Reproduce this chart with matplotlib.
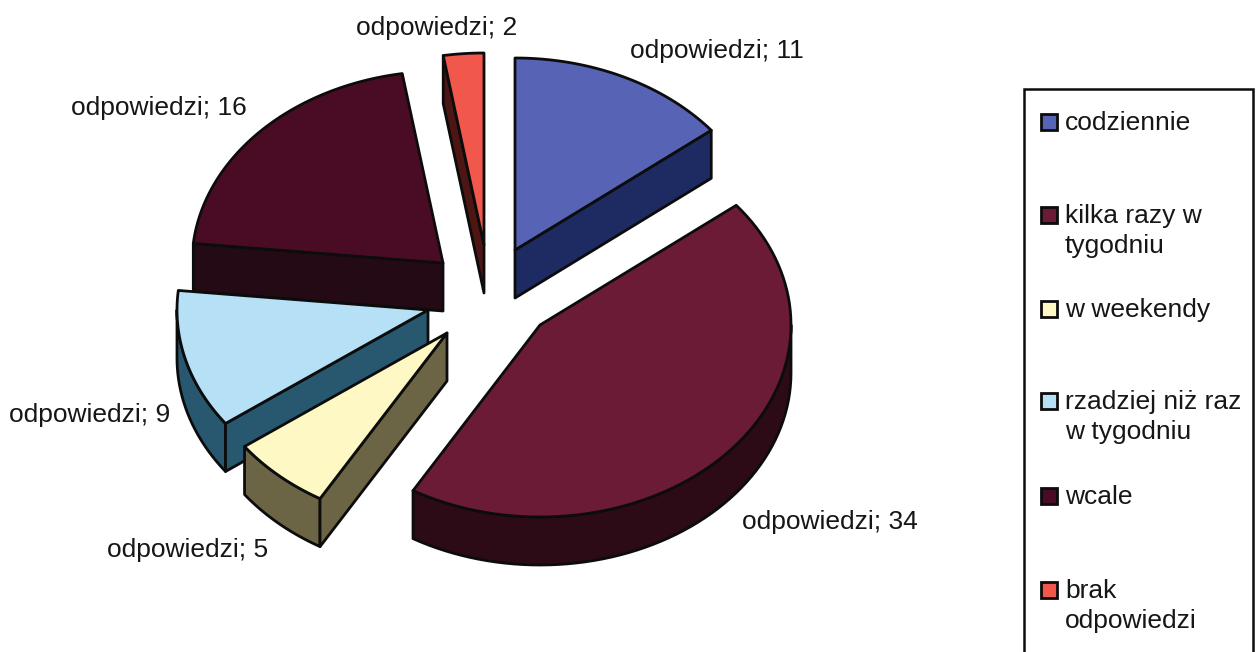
import numpy as np
import matplotlib
matplotlib.use('Agg')
import matplotlib.pyplot as plt
from matplotlib.patches import Polygon, Rectangle

plt.rcParams['font.family'] = ['Liberation Sans', 'DejaVu Sans']

categories = ['codziennie', 'kilka razy w\ntygodniu', 'w weekendy',
              'rzadziej niż raz\nw tygodniu', 'wcale', 'brak\nodpowiedzi']
values = [11, 34, 5, 9, 16, 2]
top_colors = ['#5763b5', '#6b1b36', '#fdf8c4', '#b5e0f5', '#4a0c24', '#f2574c']
side_colors = ['#1e2a62', '#2c0a16', '#6b6545', '#27586f', '#240a14', '#4d1612']

# layout, in pixels of the picture
apex = [(515, 250), (540, 325), (447, 333), (428, 310), (443, 263), (484, 245)]
label_pos = [(717, 51), (830, 522), (188, 550), (90, 415), (159, 108), (437, 28)]
legend_y = [122, 215, 309, 401, 496, 590]
rx, ry, depth = 251, 192, 48
edge = '#0c0c0c'
lw = 2.0

fig = plt.figure(figsize=(12.56, 6.52), dpi=100)
ax = fig.add_axes([0, 0, 1, 1])
ax.set_xlim(0, 1256)
ax.set_ylim(652, 0)
ax.axis('off')

angles = np.cumsum([0] + values) / sum(values) * 2 * np.pi


def ellipse_pts(i, t):
    x0, y0 = apex[i]
    return np.column_stack([x0 + rx * np.sin(t), y0 - ry * np.cos(t)])


# back slices first
for z, i in enumerate([5, 4, 0, 3, 2, 1]):
    start, end = angles[i], angles[i + 1]
    arc = ellipse_pts(i, np.linspace(start, end, 80))
    a = np.array(apex[i], dtype=float)
    down = np.array([0, depth])
    kw = dict(facecolor=side_colors[i], edgecolor=edge, linewidth=lw,
              joinstyle='round', zorder=z * 2 + 1)
    # only the outer wall between the far left and far right of the ellipse shows
    lo, hi = max(start, np.pi / 2), min(end, 3 * np.pi / 2)
    if hi > lo:
        front = ellipse_pts(i, np.linspace(lo, hi, 60))
        ax.add_patch(Polygon(np.vstack([front, (front + down)[::-1]]), **kw))
    if np.sin(start) < -1e-6:
        ax.add_patch(Polygon([a, arc[0], arc[0] + down, a + down], **kw))
    if np.sin(end) > 1e-6:
        ax.add_patch(Polygon([a, arc[-1], arc[-1] + down, a + down], **kw))
    ax.add_patch(Polygon(np.vstack([a, arc]), facecolor=top_colors[i], edgecolor=edge,
                         linewidth=lw, joinstyle='round', zorder=z * 2 + 2))

for v, (x, y) in zip(values, label_pos):
    ax.text(x, y, f'odpowiedzi; {v}', fontsize=19, color='#161616',
            ha='center', va='center', zorder=30)

# legend
ax.add_patch(Rectangle((1024, 89), 229, 570, facecolor='white', edgecolor=edge,
                       linewidth=1.8, zorder=20))
for name, y, c in zip(categories, legend_y, top_colors):
    ax.add_patch(Rectangle((1041, y - 8), 16, 16, facecolor=c, edgecolor=edge,
                           linewidth=2.0, zorder=21))
    ax.text(1065, y - 11, name, fontsize=19, color='#161616', ha='left', va='top',
            linespacing=1.3, zorder=30)

fig.savefig('out.png', dpi=100, facecolor='white')
